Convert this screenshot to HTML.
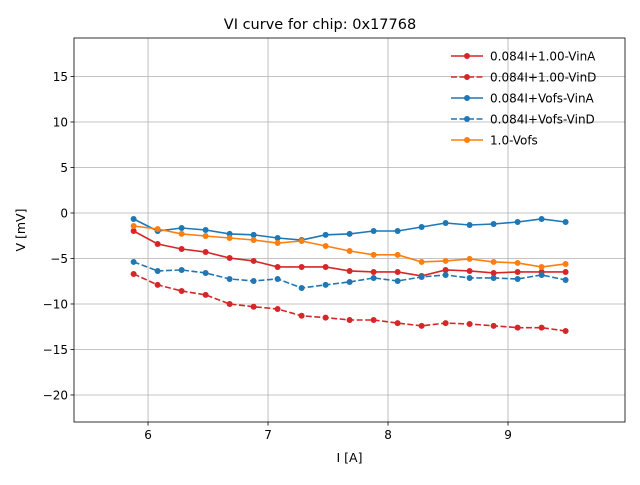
<!DOCTYPE html>
<html><head><meta charset="utf-8"><style>
body{margin:0;background:#fff;}
svg text{font-family:"DejaVu Sans","Liberation Sans",sans-serif;}
</style></head><body>
<svg id="chart" width="640" height="480" viewBox="0 0 640 480">
<rect width="640" height="480" fill="#fff"/>
<g id="grid"></g>
<g id="series"></g>
<rect x="74" y="38" width="551" height="384" fill="none" stroke="#000" stroke-width="0.8"/>
<g id="ticks"></g>
<text x="320" y="29" font-size="14.5" text-anchor="middle">VI curve for chip: 0x17768</text>
<text x="349.5" y="462" font-size="12.5" text-anchor="middle">I [A]</text>
<text x="25" y="230" font-size="12.5" text-anchor="middle" transform="rotate(-90 25 230)">V [mV]</text>
<g id="legend"></g>
</svg>
<script>
const xValues=[5.88,6.08,6.28,6.48,6.68,6.88,7.08,7.28,7.48,7.68,7.88,8.08,8.28,8.48,8.68,8.88,9.08,9.28,9.48];
const redSolid=[-1.98,-3.41,-3.96,-4.29,-4.95,-5.27,-5.93,-5.93,-5.93,-6.37,-6.48,-6.48,-6.92,-6.26,-6.37,-6.59,-6.48,-6.48,-6.48];
const redDashed=[-6.7,-7.9,-8.57,-9.0,-10.0,-10.3,-10.55,-11.3,-11.5,-11.76,-11.76,-12.1,-12.4,-12.1,-12.2,-12.4,-12.6,-12.6,-12.97];
const blueSolid=[-0.66,-1.98,-1.65,-1.87,-2.3,-2.4,-2.75,-2.97,-2.4,-2.3,-1.98,-1.98,-1.54,-1.1,-1.32,-1.21,-0.99,-0.66,-0.99];
const blueDashed=[-5.38,-6.37,-6.26,-6.59,-7.25,-7.47,-7.25,-8.24,-7.9,-7.58,-7.14,-7.47,-7.03,-6.81,-7.14,-7.14,-7.25,-6.81,-7.36];
const orange=[-1.43,-1.76,-2.3,-2.53,-2.75,-2.97,-3.3,-3.08,-3.63,-4.18,-4.6,-4.6,-5.38,-5.27,-5.05,-5.38,-5.49,-5.93,-5.6];
const xTicks=[6,7,8,9];
const yTicks=[15,10,5,0,-5,-10,-15,-20];
const legendLabels=["0.084I+1.00-VinA","0.084I+1.00-VinD","0.084I+Vofs-VinA","0.084I+Vofs-VinD","1.0-Vofs"];

const NS="http://www.w3.org/2000/svg";
const L=74,R=625,T=38,B=422,xmin=5.383,xmax=9.975,ymin=-22.97,ymax=19.23;
const sx=v=>L+(v-xmin)/(xmax-xmin)*(R-L);
const sy=v=>B-(v-ymin)/(ymax-ymin)*(B-T);
function mk(tag,attrs,parent){const e=document.createElementNS(NS,tag);for(const k in attrs)e.setAttribute(k,attrs[k]);parent.appendChild(e);return e;}
const grid=document.getElementById('grid'),ticks=document.getElementById('ticks');
xTicks.forEach(t=>{const x=sx(t);
 let g=mk('line',{x1:x,x2:x,y1:T,y2:B,stroke:'#b0b0b0','stroke-width':0.8},grid);
 
 let k=mk('line',{x1:x,x2:x,y1:B,y2:B+3.5,stroke:'#000','stroke-width':0.8},ticks);
 
 let tx=mk('text',{x:x,y:B+17,'font-size':12,'text-anchor':'middle'},ticks);tx.textContent=t;
 
});
yTicks.forEach(t=>{const y=sy(t);
 let g=mk('line',{x1:L,x2:R,y1:y,y2:y,stroke:'#b0b0b0','stroke-width':0.8},grid);
 
 let k=mk('line',{x1:L-3.5,x2:L,y1:y,y2:y,stroke:'#000','stroke-width':0.8},ticks);
 
 let tx=mk('text',{x:L-6,y:y+4.5,'font-size':12,'text-anchor':'end'},ticks);tx.textContent=(t<0?'\u2212'+(-t):t);
 
});
const series=[[redSolid,'#d62728',false],[redDashed,'#d62728',true],[blueSolid,'#1f77b4',false],[blueDashed,'#1f77b4',true],[orange,'#ff7f0e',false]];
const sg=document.getElementById('series'),lg=document.getElementById('legend');
series.forEach((s,i)=>{const [vals,c,d]=s;
 const g=mk('g',{},sg);
 const pts=vals.map((v,j)=>sx(xValues[j])+','+sy(v)).join(' ');
 const pl=mk('polyline',{points:pts,fill:'none',stroke:c,'stroke-width':1.6,'stroke-dasharray':d?'6,2.5':'none'},g);
 
 vals.forEach((v,j)=>{const m=mk('circle',{cx:sx(xValues[j]),cy:sy(v),r:3,fill:c},g);
  });
 const y=56+i*21;
 const e=mk('g',{},lg);
 mk('line',{x1:451,x2:483,y1:y,y2:y,stroke:c,'stroke-width':1.6,'stroke-dasharray':d?'6,2.5':'none'},e);
 mk('circle',{cx:467,cy:y,r:3,fill:c},e);
 const t=mk('text',{x:490,y:y+4.5,'font-size':12},e);t.textContent=legendLabels[i];
});
</script>
</body></html>
